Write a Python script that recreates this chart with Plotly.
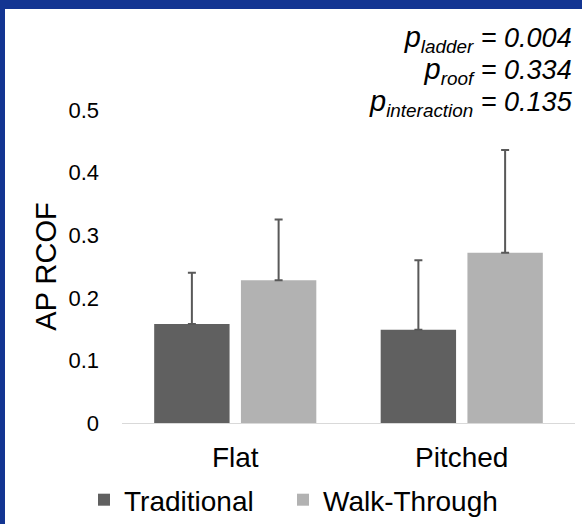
import plotly.graph_objects as go

categories = ["Flat", "Pitched"]
series_names = ["Traditional", "Walk-Through"]
traditional = [0.158, 0.149]
walk_through = [0.228, 0.272]
traditional_sd = [0.082, 0.111]
walk_through_sd = [0.097, 0.164]
y_ticks = [0, 0.1, 0.2, 0.3, 0.4, 0.5]
y_ticktext = ["0", "0.1", "0.2", "0.3", "0.4", "0.5"]
p_labels = ["ladder", "roof", "interaction"]
p_values = ["0.004", "0.334", "0.135"]

FONT = "Arial, Liberation Sans, sans-serif"
colors = ["#606060", "#b2b2b2"]
legend_ids = ["legend", "legend2"]

fig = go.Figure()
for name, vals, sd, col, lg in zip(series_names, [traditional, walk_through],
                                   [traditional_sd, walk_through_sd], colors, legend_ids):
    fig.add_trace(go.Bar(
        x=categories, y=vals, name=name, legend=lg,
        marker=dict(color=col, line=dict(width=0)),
        error_y=dict(type="data", array=sd, arrayminus=[0] * len(sd),
                     symmetric=False, color="#595959", thickness=2, width=4),
    ))

W, H = 582, 524
L, R, T, B = 122, 7, 110, 101
PW, PH = W - L - R, H - T - B

shapes = [
    dict(type="rect", xref="paper", yref="paper",
         x0=(5 - L) / PW, x1=(W + 10 - L) / PW,
         y0=-(B + 10) / PH, y1=1 + (T - 9) / PH,
         fillcolor="white", line=dict(width=0), layer="below"),
]

p_lines = [
    (f"<i><span style='font-size:29px'>p</span>"
     f"<span style='font-size:27px'><sub>{lab}</sub> = {val}</span></i>")
    for lab, val in zip(p_labels, p_values)
]
annotations = [dict(
    xref="paper", yref="paper",
    x=(575 - L) / PW, y=(H - B - 71) / PH,
    xanchor="right", yanchor="middle", align="right", showarrow=False,
    text="<br>".join(p_lines),
    font=dict(family=FONT, size=24.6, color="#000000"),
)]

legend_common = dict(orientation="h", xanchor="left", yanchor="middle",
                     y=(H - B - 500) / PH,
                     font=dict(family=FONT, size=28, color="#000000"),
                     bgcolor="rgba(0,0,0,0)")

fig.update_layout(
    width=W, height=H,
    margin=dict(l=L, r=R, t=T, b=B, autoexpand=False),
    paper_bgcolor="#133592",
    plot_bgcolor="white",
    barmode="group", bargap=0.234, bargroupgap=0.131,
    font=dict(family=FONT, color="#000000"),
    shapes=shapes,
    annotations=annotations,
    showlegend=True,
    legend=dict(x=(84 - L) / PW, **legend_common),
    legend2=dict(x=(283 - L) / PW, **legend_common),
    xaxis=dict(showline=True, linecolor="#d9d9d9", linewidth=1,
               showgrid=False, zeroline=False, ticks="",
               tickfont=dict(family=FONT, size=28, color="#000000"),
               ticklabelstandoff=9),
    yaxis=dict(range=[0, 0.5], tickvals=y_ticks, ticktext=y_ticktext,
               showgrid=False, zeroline=False, showline=False, ticks="",
               tickfont=dict(family=FONT, size=22, color="#000000"),
               ticklabelstandoff=22,
               title=dict(text="AP RCOF", standoff=3,
                          font=dict(family=FONT, size=29, color="#000000"))),
)

fig.write_html("out.html", config={"displayModeBar": False},
               post_script="document.body.style.margin='0';document.body.style.padding='0';")
